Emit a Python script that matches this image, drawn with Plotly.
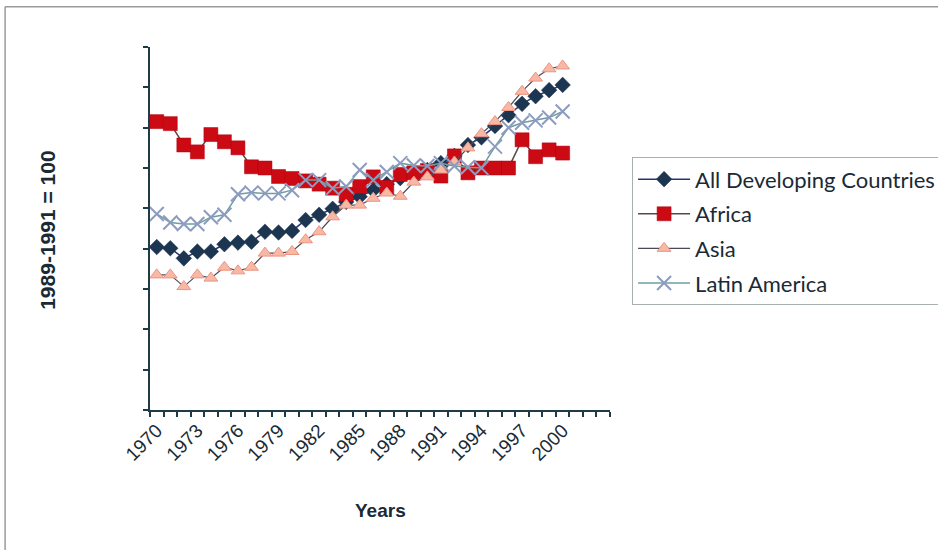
import plotly.graph_objects as go

# Index values, 1989-1991 = 100
years = list(range(1970, 2001))

all_developing = [80.4, 80.1, 77.6, 79.3, 79.3, 81.1, 81.5, 81.7, 84.2, 84.0,
                  84.4, 87.1, 88.4, 89.9, 91.6, 92.9, 94.5, 96.0, 97.5, 98.8,
                  99.5, 101.2, 103.0, 105.7, 107.6, 110.4, 113.1, 115.9, 117.8, 119.3,
                  120.6]

africa = [111.5, 111.0, 105.7, 104.0, 108.3, 106.5, 105.0, 100.3, 100.0, 97.9,
          97.4, 96.8, 96.0, 95.0, 93.5, 95.4, 97.8, 95.2, 98.4, 98.8,
          99.4, 98.0, 103.0, 98.8, 100.0, 100.0, 100.0, 107.0, 102.8, 104.5,
          103.7]

asia = [73.5, 73.5, 70.6, 73.5, 72.7, 75.4, 74.5, 75.4, 78.9, 78.9,
        79.3, 82.2, 84.2, 87.9, 90.8, 90.8, 92.5, 93.8, 93.0, 96.5,
        97.8, 99.5, 101.5, 105.0, 108.5, 111.5, 115.0, 119.0, 122.3, 124.6,
        125.3]

latin_america = [88.6, 86.5, 86.1, 86.1, 87.8, 88.4, 93.5, 93.9, 93.7, 93.7,
                 94.5, 97.0, 97.0, 95.0, 95.4, 99.5, 97.0, 99.0, 101.2, 100.6,
                 100.5, 101.2, 100.5, 100.2, 100.0, 105.3, 110.0, 111.2, 111.8, 112.5,
                 114.0]

label_years = list(range(1970, 2001, 3))

axis_color = "#1f3b45"
text_color = "#1a2a35"

fig = go.Figure()

fig.add_trace(go.Scatter(
    x=years, y=all_developing, name="All Developing Countries",
    mode="lines+markers", legendgroup="a",
    line=dict(color="#2a3470", width=1.5),
    marker=dict(symbol="diamond", size=12, color="#1c3550",
                line=dict(color="#1c3550", width=0.5)),
))
fig.add_trace(go.Scatter(
    x=years, y=africa, name="Africa",
    mode="lines+markers", legendgroup="b",
    line=dict(color="#5a4848", width=1.5),
    marker=dict(symbol="square", size=14, color="#cc0a14",
                line=dict(color="#b00010", width=0.5)),
))
fig.add_trace(go.Scatter(
    x=years, y=asia, name="Asia",
    mode="lines+markers", legendgroup="c",
    line=dict(color="#4a4a5a", width=1.2),
    marker=dict(symbol="triangle-up", size=12, color="#f7b8a6",
                line=dict(color="#ec9482", width=1)),
))
fig.add_trace(go.Scatter(
    x=years, y=latin_america, name="Latin America",
    mode="lines+markers", legendgroup="d",
    line=dict(color="#6f9ea0", width=1.5),
    marker=dict(symbol="x-thin", size=14, color="#8c9cc0",
                line=dict(color="#8c9cc0", width=2)),
))

fig.update_layout(
    width=938, height=550,
    margin=dict(l=150, r=328, t=47, b=140, autoexpand=False),
    paper_bgcolor="white", plot_bgcolor="white",
    font=dict(family="Liberation Sans, Arial, sans-serif", color=text_color),
    showlegend=True,
    legend=dict(
        x=1.048, y=0.696, xanchor="left", yanchor="top",
        bordercolor="#a8b0b0", borderwidth=1,
        font=dict(family="Lato, Liberation Sans, sans-serif", size=22, color=text_color),
        tracegroupgap=3, itemwidth=52,
    ),
    xaxis=dict(
        range=[1969.5, 2003.5],
        showline=True, linecolor=axis_color, linewidth=2,
        showgrid=False, zeroline=False,
        tickmode="array", tickvals=label_years,
        ticktext=[str(y) for y in label_years],
        ticks="", tickangle=-45,
        tickfont=dict(size=19, color=text_color),
        minor=dict(tick0=1969.5, dtick=1, ticks="outside", ticklen=5,
                   tickcolor=axis_color, tickwidth=1.5, showgrid=False),
    ),
    yaxis=dict(
        range=[40, 130], dtick=10, tick0=40,
        showline=True, linecolor=axis_color, linewidth=2,
        showgrid=False, zeroline=False,
        ticks="outside", ticklen=5, tickcolor=axis_color, tickwidth=1.5,
        showticklabels=False,
    ),
    annotations=[
        dict(text="<b>1989-1991 = 100</b>", xref="paper", yref="paper",
             x=-0.2228, y=0.495, textangle=-90, showarrow=False,
             xanchor="center", yanchor="middle",
             font=dict(size=21, family="Liberation Sans, Arial, sans-serif", color=text_color)),
        dict(text="<b>Years</b>", xref="paper", yref="paper",
             x=0.5, y=-0.2755, showarrow=False,
             xanchor="center", yanchor="middle",
             font=dict(size=19, family="Liberation Sans, Arial, sans-serif", color=text_color)),
    ],
    shapes=[
        # page frame: only the top and left edges fall inside the canvas
        dict(type="line", xref="paper", yref="paper",
             x0=-0.315, x1=1.8, y0=1.111, y1=1.111,
             line=dict(color="#9a9a9a", width=1.5), layer="below"),
        dict(type="line", xref="paper", yref="paper",
             x0=-0.315, x1=-0.315, y0=-0.5, y1=1.111,
             line=dict(color="#9a9a9a", width=1.5), layer="below"),
    ],
)

fig.write_html("out.html")
